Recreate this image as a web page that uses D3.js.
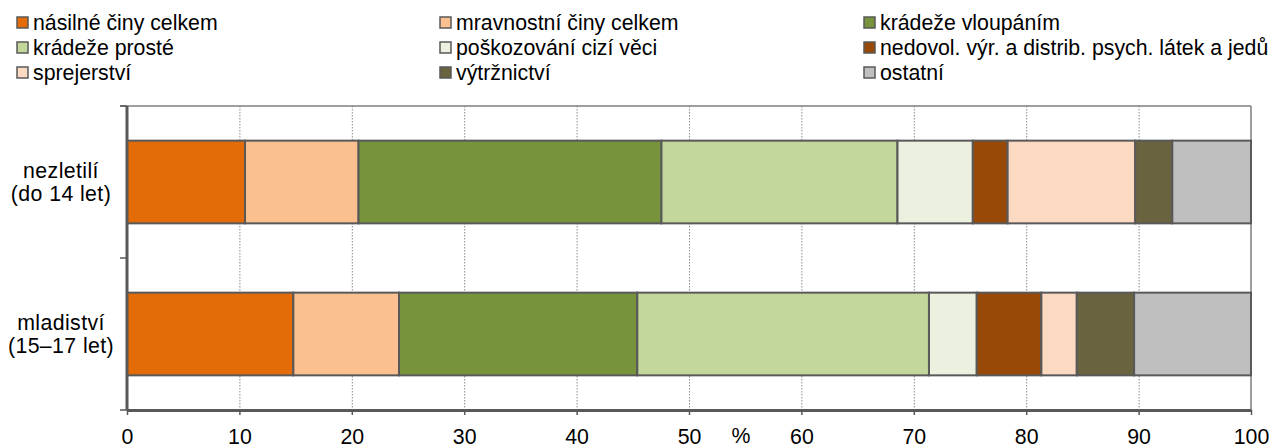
<!DOCTYPE html>
<html>
<head>
<meta charset="utf-8">
<script src="https://cdn.jsdelivr.net/npm/d3@7"></script>
<style>
  html, body { margin: 0; padding: 0; background: #fff; }
  svg { display: block; font-family: "Liberation Sans", Arial, sans-serif; }
</style>
</head>
<body>
<svg id="chart" width="1279" height="448"></svg>
<script>
// ---- data ----
const groups = ["nezletilí", "mladiství"];
const groupLabels = [["nezletilí", "(do 14 let)"], ["mladiství", "(15–17 let)"]];
const seriesNames = [
  "násilné činy celkem",
  "mravnostní činy celkem",
  "krádeže vloupáním",
  "krádeže prosté",
  "poškozování cizí věci",
  "nedovol. výr. a distrib. psych. látek a jedů",
  "sprejerství",
  "výtržnictví",
  "ostatní"
];
const valuesNezletili = [10.5, 10.1, 26.95, 21.0, 6.7, 3.1, 11.35, 3.3, 7.0];
const valuesMladistvi = [14.8, 9.4, 21.2, 25.95, 4.25, 5.75, 3.15, 5.1, 10.4];
const xTicks = [0, 10, 20, 30, 40, 50, 60, 70, 80, 90, 100];
const colors = ["#E36C09", "#FAC090", "#77933C", "#C3D69B", "#EBF1DE", "#984807", "#FCDAC1", "#6A6340", "#BFBFBF"];

(function () {
// ---- layout ----
const svg = d3.select("#chart");
const pLeft = 127, pRight = 1251, pTop = 106, pBottom = 410;
const fs = 21.3;

const x = d3.scaleLinear().domain([0, 100]).range([pLeft, pRight]);
const y = d3.scaleBand().domain(groups).range([pTop, pBottom]).paddingInner(0.456).paddingOuter(0.228);
const color = d3.scaleOrdinal().domain(seriesNames).range(colors);

const rows = groups.map((g, gi) => {
  const r = { group: g };
  const vals = gi === 0 ? valuesNezletili : valuesMladistvi;
  seriesNames.forEach((s, si) => r[s] = vals[si]);
  return r;
});
const stacked = d3.stack().keys(seriesNames)(rows);

// gridlines
svg.append("g").selectAll("line").data(xTicks.filter(t => t > 0 && t < 100)).join("line")
  .attr("x1", d => x(d) + 0.5).attr("x2", d => x(d) + 0.5)
  .attr("y1", pTop).attr("y2", pBottom)
  .attr("stroke", "#8c8c8c").attr("stroke-width", 1).attr("stroke-dasharray", "1.5,1.5");

// frame top/right
svg.append("line").attr("x1", pLeft - 7).attr("x2", pRight).attr("y1", pTop).attr("y2", pTop)
  .attr("stroke", "#7f7f7f").attr("stroke-width", 1.5);
svg.append("line").attr("x1", pRight).attr("x2", pRight).attr("y1", pTop).attr("y2", pBottom)
  .attr("stroke", "#7f7f7f").attr("stroke-width", 1.5);

// bars
svg.append("g").selectAll("g").data(stacked).join("g")
  .attr("fill", d => color(d.key))
  .selectAll("rect").data(d => d).join("rect")
  .attr("x", d => x(d[0]))
  .attr("width", d => x(d[1]) - x(d[0]))
  .attr("y", d => y(d.data.group))
  .attr("height", y.bandwidth())
  .attr("stroke", "#595959").attr("stroke-width", 2);

// x axis
const xAxis = d3.axisBottom(x).tickValues(xTicks).tickSize(5).tickPadding(14).tickSizeOuter(0);
const gx = svg.append("g").attr("transform", `translate(0,${pBottom})`).call(xAxis);
gx.select(".domain").attr("stroke", "#595959").attr("stroke-width", 3);
gx.selectAll(".tick line").attr("stroke", "#595959").attr("stroke-width", 1.5);
gx.selectAll(".tick text").attr("font-size", fs).attr("fill", "#000")
  .attr("font-family", "Liberation Sans, Arial, sans-serif");

// y axis (ticks at band boundaries)
const boundaries = [pTop, pTop + y.step(), pBottom];
svg.append("line").attr("x1", pLeft).attr("x2", pLeft).attr("y1", pTop).attr("y2", pBottom)
  .attr("stroke", "#595959").attr("stroke-width", 3);
svg.append("g").selectAll("line").data(boundaries).join("line")
  .attr("x1", pLeft - 7).attr("x2", pLeft).attr("y1", d => d).attr("y2", d => d)
  .attr("stroke", "#595959").attr("stroke-width", 1.5);

// category labels
groupLabels.forEach((lines, gi) => {
  const cy = y(groups[gi]) + y.bandwidth() / 2;
  const t = svg.append("text").attr("x", 61).attr("text-anchor", "middle")
    .attr("font-size", fs).attr("letter-spacing", 0.4).attr("fill", "#000");
  t.append("tspan").attr("x", 61).attr("y", cy - 4).text(lines[0]);
  t.append("tspan").attr("x", 61).attr("y", cy + 19).text(lines[1]);
});

// % label
svg.append("text").attr("x", 741).attr("y", 443).attr("text-anchor", "middle")
  .attr("font-size", fs).attr("fill", "#000").text("%");

// legend
const colX = [17, 440, 864];
const rowY = [23, 48, 73];
const leg = svg.append("g").selectAll("g").data(seriesNames).join("g")
  .attr("transform", (d, i) => `translate(${colX[i % 3]},${rowY[Math.floor(i / 3)]})`);
leg.append("rect").attr("x", 0).attr("y", -6).attr("width", 11).attr("height", 11)
  .attr("fill", d => color(d)).attr("stroke", "#595959").attr("stroke-width", 1.5);
leg.append("text").attr("x", 16).attr("y", 0).attr("dy", "0.35em")
  .attr("font-size", fs).attr("fill", "#000").text(d => d);
})();
</script>
</body>
</html>
